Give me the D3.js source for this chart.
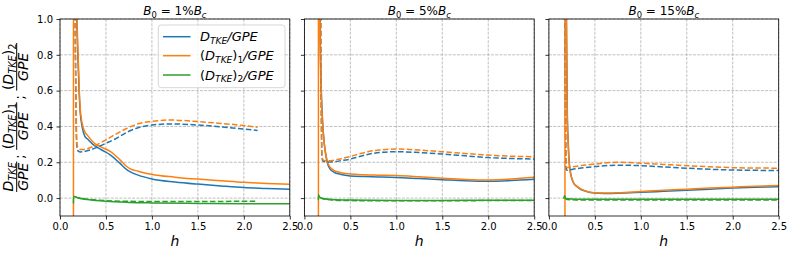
<!DOCTYPE html>
<html><head><meta charset="utf-8">
<script src="https://cdn.jsdelivr.net/npm/d3@7"></script>
<style>body{margin:0;background:#fff;} svg{display:block;}</style>
</head><body>
<svg id="chart" width="793" height="253"></svg>
<script>
// ---------------- data ----------------
const panelLabels = ["1%", "5%", "15%"];
const xTickValues = [0, 0.5, 1.0, 1.5, 2.0, 2.5];
const yTickValues = [0.0, 0.2, 0.4, 0.6, 0.8, 1.0];
const seriesColors = ["#1f77b4", "#ff7f0e", "#2ca02c"];

// Panel 1: B0 = 1% Bc  ([h, value])
const p1Total = [[0.175,1.25],[0.185,0.95],[0.195,0.78],[0.21,0.57],[0.22,0.48],[0.24,0.40],[0.27,0.345],[0.3,0.33],[0.365,0.297],[0.45,0.27],[0.55,0.24],[0.65,0.195],[0.73,0.157],[0.76,0.148],[0.85,0.128],[1.0,0.107],[1.25,0.09],[1.5,0.078],[1.75,0.068],[2.0,0.059],[2.25,0.054],[2.5,0.049]];
const p1Mode1 = [[0.146,-3],[0.147,3],[0.175,1.3],[0.185,1.0],[0.195,0.83],[0.21,0.6],[0.22,0.5],[0.24,0.42],[0.27,0.37],[0.3,0.35],[0.365,0.31],[0.45,0.285],[0.55,0.26],[0.65,0.215],[0.73,0.175],[0.76,0.165],[0.85,0.15],[1.0,0.132],[1.25,0.117],[1.5,0.106],[1.75,0.097],[2.0,0.088],[2.25,0.082],[2.5,0.077]];
const p1Mode2 = [[0.146,-0.03],[0.148,0.01],[0.16,0.008],[0.2,0.0],[0.3,-0.008],[0.5,-0.018],[0.75,-0.024],[1.0,-0.027],[1.5,-0.03],[2.0,-0.032],[2.5,-0.032]];
const p1TotalD = [[0.162,2.0],[0.165,1.0],[0.172,0.6],[0.178,0.35],[0.185,0.28],[0.2,0.262],[0.22,0.258],[0.26,0.26],[0.33,0.269],[0.4,0.283],[0.5,0.306],[0.6,0.33],[0.73,0.368],[0.85,0.393],[1.0,0.408],[1.2,0.414],[1.5,0.408],[1.75,0.398],[2.0,0.386],[2.15,0.378]];
const p1Mode1D = [[0.164,2.0],[0.167,1.0],[0.174,0.6],[0.18,0.36],[0.187,0.29],[0.2,0.278],[0.22,0.272],[0.26,0.272],[0.33,0.282],[0.4,0.298],[0.5,0.325],[0.6,0.355],[0.73,0.39],[0.85,0.415],[1.0,0.428],[1.2,0.436],[1.5,0.427],[1.75,0.417],[2.0,0.405],[2.15,0.395]];
const p1Mode2D = [[0.165,0.008],[0.2,0.002],[0.3,-0.006],[0.5,-0.014],[0.75,-0.018],[1.0,-0.019],[1.5,-0.019],[2.0,-0.018],[2.15,-0.018]];

// Panel 2: B0 = 5% Bc
const p2Total = [[0.165,1.5],[0.17,1.0],[0.177,0.75],[0.187,0.55],[0.2,0.41],[0.217,0.3],[0.238,0.225],[0.26,0.18],[0.28,0.162],[0.32,0.145],[0.4,0.132],[0.5,0.124],[0.65,0.12],[0.8,0.118],[1.0,0.115],[1.25,0.109],[1.5,0.103],[1.75,0.097],[2.0,0.094],[2.25,0.098],[2.5,0.105]];
const p2Mode1 = [[0.152,-3],[0.153,3],[0.162,1.5],[0.168,1.0],[0.175,0.75],[0.185,0.56],[0.198,0.42],[0.215,0.31],[0.236,0.235],[0.26,0.19],[0.28,0.172],[0.32,0.155],[0.4,0.142],[0.5,0.134],[0.65,0.13],[0.8,0.128],[1.0,0.126],[1.25,0.119],[1.5,0.111],[1.75,0.104],[2.0,0.101],[2.25,0.106],[2.5,0.116]];
const p2Mode2 = [[0.152,-0.012],[0.154,0.018],[0.165,0.006],[0.2,-0.002],[0.3,-0.008],[0.5,-0.011],[1.0,-0.013],[1.5,-0.013],[2.0,-0.012],[2.5,-0.012]];
const p2TotalD = [[0.176,2.0],[0.178,1.0],[0.182,0.6],[0.186,0.35],[0.19,0.24],[0.2,0.207],[0.25,0.202],[0.31,0.203],[0.4,0.209],[0.5,0.218],[0.6,0.232],[0.7,0.245],[0.85,0.256],[1.0,0.259],[1.25,0.254],[1.5,0.246],[1.75,0.236],[2.0,0.226],[2.25,0.221],[2.5,0.218]];
const p2Mode1D = [[0.177,2.0],[0.179,1.0],[0.183,0.6],[0.187,0.35],[0.192,0.24],[0.2,0.213],[0.25,0.208],[0.31,0.21],[0.4,0.22],[0.5,0.232],[0.6,0.247],[0.7,0.26],[0.85,0.27],[1.0,0.274],[1.25,0.268],[1.5,0.259],[1.75,0.249],[2.0,0.24],[2.25,0.234],[2.5,0.231]];
const p2Mode2D = [[0.17,0.004],[0.2,-0.004],[0.3,-0.01],[0.5,-0.014],[1.0,-0.015],[1.5,-0.015],[2.0,-0.014],[2.5,-0.014]];

// Panel 3: B0 = 15% Bc
const p3Total = [[0.186,1.5],[0.191,1.0],[0.196,0.7],[0.201,0.45],[0.211,0.3],[0.221,0.2],[0.236,0.14],[0.25,0.108],[0.27,0.083],[0.3,0.066],[0.35,0.048],[0.4,0.038],[0.5,0.028],[0.6,0.026],[0.75,0.027],[1.0,0.032],[1.25,0.038],[1.5,0.044],[1.75,0.05],[2.0,0.056],[2.25,0.06],[2.5,0.063]];
const p3Mode1 = [[0.174,-3],[0.175,3],[0.185,1.5],[0.19,1.0],[0.195,0.7],[0.2,0.45],[0.21,0.3],[0.22,0.2],[0.235,0.14],[0.25,0.11],[0.27,0.085],[0.3,0.068],[0.35,0.05],[0.4,0.04],[0.5,0.03],[0.6,0.028],[0.75,0.03],[1.0,0.037],[1.25,0.044],[1.5,0.05],[1.75,0.056],[2.0,0.061],[2.25,0.066],[2.5,0.07]];
const p3Mode2 = [[0.16,-0.003],[0.172,0.014],[0.18,0.0],[0.2,-0.004],[0.3,-0.006],[0.5,-0.006],[1.0,-0.006],[1.5,-0.006],[2.0,-0.007],[2.5,-0.007]];
const p3TotalD = [[0.175,2.0],[0.177,1.0],[0.18,0.6],[0.183,0.3],[0.187,0.18],[0.19,0.158],[0.2,0.155],[0.25,0.16],[0.35,0.168],[0.5,0.176],[0.75,0.184],[1.0,0.181],[1.25,0.174],[1.5,0.167],[1.75,0.161],[2.0,0.157],[2.25,0.155],[2.5,0.154]];
const p3Mode1D = [[0.176,2.0],[0.178,1.0],[0.181,0.6],[0.184,0.3],[0.188,0.19],[0.192,0.172],[0.2,0.17],[0.25,0.174],[0.35,0.182],[0.5,0.19],[0.75,0.2],[1.0,0.195],[1.25,0.188],[1.5,0.181],[1.75,0.175],[2.0,0.17],[2.25,0.168],[2.5,0.167]];
const p3Mode2D = [[0.175,0.0],[0.2,-0.008],[0.3,-0.01],[0.5,-0.01],[1.0,-0.01],[1.5,-0.01],[2.0,-0.01],[2.5,-0.01]];

const panels = [
  {label: panelLabels[0], solid: [p1Total, p1Mode1, p1Mode2], dashed: [p1TotalD, p1Mode1D, p1Mode2D]},
  {label: panelLabels[1], solid: [p2Total, p2Mode1, p2Mode2], dashed: [p2TotalD, p2Mode1D, p2Mode2D]},
  {label: panelLabels[2], solid: [p3Total, p3Mode1, p3Mode2], dashed: [p3TotalD, p3Mode1D, p3Mode2D]},
];

// ---------------- drawing ----------------
const FONT = "DejaVu Sans";
const svg = d3.select("#chart");
const lefts = [60, 304.4, 548.9];
const pw = 229.8, plotTop = 19, plotBottom = 216;

function addMath(parent, parts, size, x, yy, anchor) {
  const t = parent.append("text").attr("x", x).attr("y", yy)
    .attr("font-family", FONT).attr("font-size", size)
    .attr("text-anchor", anchor || "start").attr("fill", "#000");
  let cur = 0;
  parts.forEach(p => {
    const sh = p.sub ? size * 0.22 : 0;
    const ts = t.append("tspan").text(p.t)
      .attr("font-style", p.it ? "italic" : "normal")
      .attr("font-size", p.sub ? size * 0.7 : size);
    if (sh !== cur) { ts.attr("dy", sh - cur); cur = sh; }
  });
  return t;
}

const yScale = d3.scaleLinear().domain([-0.1, 1.0]).range([plotBottom, plotTop]);

panels.forEach((pan, i) => {
  const x = d3.scaleLinear().domain([0, 2.5]).range([lefts[i], lefts[i] + pw]);
  const g = svg.append("g");
  g.selectAll(".gx").data(xTickValues).enter().append("line")
    .attr("x1", d => x(d)).attr("x2", d => x(d)).attr("y1", plotTop).attr("y2", plotBottom)
    .attr("stroke", "#b0b0b0").attr("stroke-width", 0.8).attr("stroke-dasharray", "2.96,1.28");
  g.selectAll(".gy").data(yTickValues).enter().append("line")
    .attr("x1", lefts[i]).attr("x2", lefts[i] + pw).attr("y1", d => yScale(d)).attr("y2", d => yScale(d))
    .attr("stroke", "#b0b0b0").attr("stroke-width", 0.8).attr("stroke-dasharray", "2.96,1.28");

  const cid = "clip" + i;
  svg.append("defs").append("clipPath").attr("id", cid).append("rect")
    .attr("x", lefts[i]).attr("y", plotTop).attr("width", pw).attr("height", plotBottom - plotTop);
  const lg = g.append("g").attr("clip-path", `url(#${cid})`);
  const line = d3.line().x(d => x(d[0])).y(d => yScale(d[1])).curve(d3.curveMonotoneX);
  pan.solid.forEach((s, k) => {
    lg.append("path").attr("d", line(s)).attr("fill", "none")
      .attr("stroke", seriesColors[k]).attr("stroke-width", 1.5);
  });
  pan.dashed.forEach((s, k) => {
    lg.append("path").attr("d", line(s)).attr("fill", "none")
      .attr("stroke", seriesColors[k]).attr("stroke-width", 1.5)
      .attr("stroke-dasharray", "5.55,2.4");
  });

  const xa = g.append("g").attr("transform", `translate(0,${plotBottom})`)
    .call(d3.axisBottom(x).tickValues(xTickValues).tickFormat(d3.format(".1f")).tickSize(3.5).tickPadding(3.5).tickSizeOuter(0));
  const ya = g.append("g").attr("transform", `translate(${lefts[i]},0)`)
    .call(d3.axisLeft(yScale).tickValues(yTickValues).tickFormat(i === 0 ? d3.format(".1f") : () => "").tickSize(3.5).tickPadding(3.5).tickSizeOuter(0));
  [xa, ya].forEach(a => {
    a.selectAll("text").attr("font-family", FONT).attr("font-size", 10).attr("fill", "#000");
    a.selectAll("line").attr("stroke", "#000").attr("stroke-width", 0.8);
    a.select(".domain").remove();
  });
  g.append("rect").attr("x", lefts[i]).attr("y", plotTop).attr("width", pw).attr("height", plotBottom - plotTop)
    .attr("fill", "none").attr("stroke", "#000").attr("stroke-width", 0.8);

  addMath(svg, [{t:"B",it:1},{t:"0",sub:1},{t:" = " + pan.label},{t:"B",it:1},{t:"c",it:1,sub:1}], 12, lefts[i] + pw / 2, 15, "middle");
  addMath(svg, [{t:"h",it:1}], 14, lefts[i] + pw / 2, 246, "middle");
});

// legend
const leg = svg.append("g");
leg.append("rect").attr("x", 158.3).attr("y", 25).attr("width", 126.7).attr("height", 62.7)
  .attr("rx", 3).attr("fill", "#fff").attr("fill-opacity", 0.8).attr("stroke", "#cccccc").attr("stroke-width", 0.8);
const legTexts = [
  [{t:"D",it:1},{t:"TKE",it:1,sub:1},{t:"/GPE",it:1}],
  [{t:"("},{t:"D",it:1},{t:"TKE",it:1,sub:1},{t:")"},{t:"1",sub:1},{t:"/GPE",it:1}],
  [{t:"("},{t:"D",it:1},{t:"TKE",it:1,sub:1},{t:")"},{t:"2",sub:1},{t:"/GPE",it:1}],
];
const legRows = [36.7, 55.7, 75];
legTexts.forEach((lt, k) => {
  leg.append("line").attr("x1", 163).attr("x2", 190.5).attr("y1", legRows[k]).attr("y2", legRows[k])
    .attr("stroke", seriesColors[k]).attr("stroke-width", 1.5);
  addMath(leg, lt, 13, 200, legRows[k] + 4.5, "start");
});

// y label (rotated stacked fractions)
const yl = svg.append("g").attr("transform", "translate(16.7,117.5) rotate(-90)");
const fs = 14;
const numParts = [
  [{t:"D",it:1},{t:"TKE",it:1,sub:1}],
  [{t:"("},{t:"D",it:1},{t:"TKE",it:1,sub:1},{t:")"},{t:"1",sub:1}],
  [{t:"("},{t:"D",it:1},{t:"TKE",it:1,sub:1},{t:")"},{t:"2",sub:1}],
];
const items = [];
numParts.forEach((np, k) => {
  const nt = addMath(yl, np, fs, 0, -3.8, "middle");
  const dt = addMath(yl, [{t:"GPE",it:1}], fs, 0, 11.3, "middle");
  const w = Math.max(nt.node().getComputedTextLength(), dt.node().getComputedTextLength()) + 2;
  items.push({type: "frac", nt, dt, w});
  if (k < numParts.length - 1) {
    const st = yl.append("text").text(";").attr("font-family", FONT).attr("font-size", fs).attr("y", 7.5).attr("x", 0);
    const sw = st.node().getComputedTextLength();
    items.push({type: "sep", st, w: sw + 6});
  }
});
const totalW = d3.sum(items, d => d.w);
let cx = -totalW / 2;
items.forEach(it => {
  if (it.type === "frac") {
    const c = cx + it.w / 2;
    it.nt.attr("x", c); it.dt.attr("x", c);
    yl.append("line").attr("x1", cx + 0.5).attr("x2", cx + it.w - 0.5).attr("y1", 0).attr("y2", 0)
      .attr("stroke", "#000").attr("stroke-width", 1);
  } else {
    it.st.attr("x", cx + 2);
  }
  cx += it.w;
});
</script>
</body></html>
